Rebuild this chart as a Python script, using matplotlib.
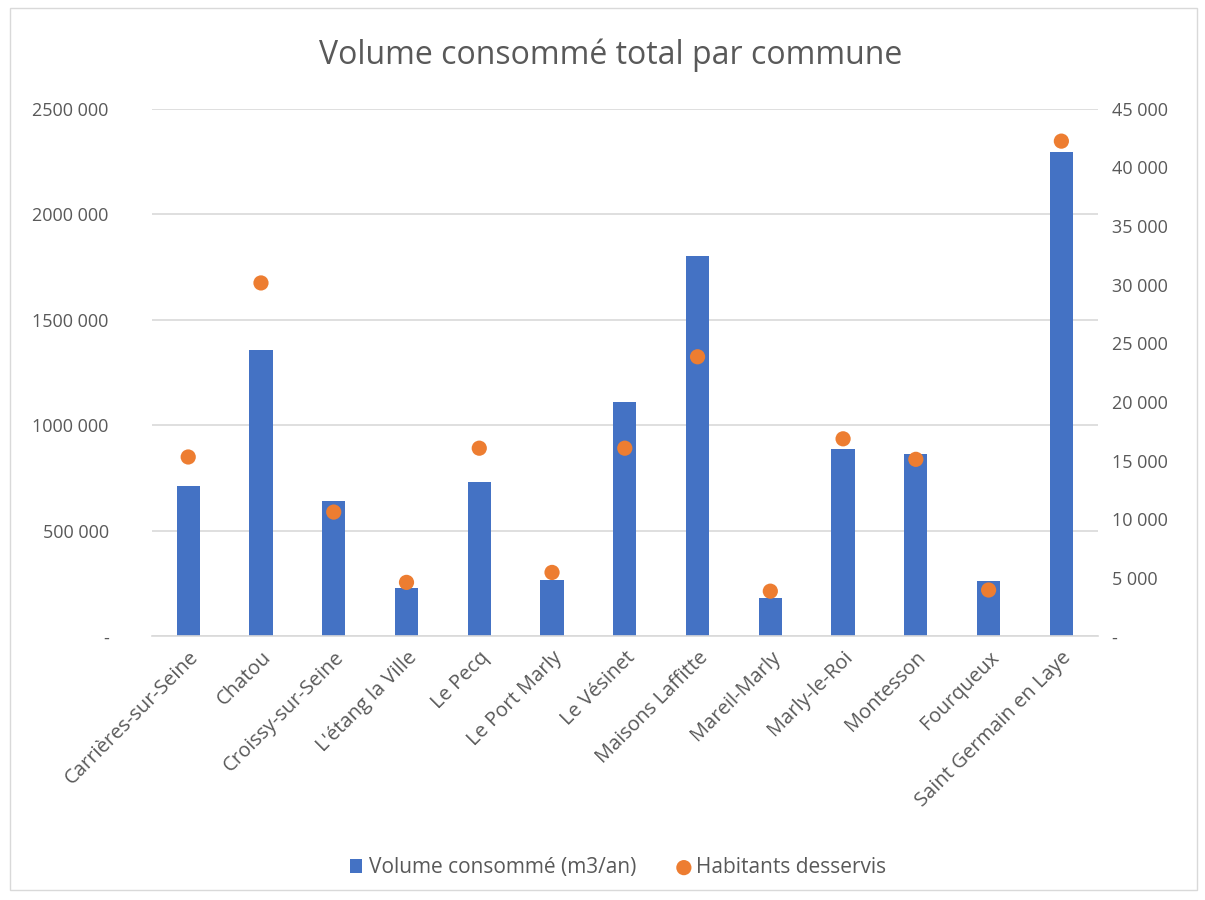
import matplotlib
matplotlib.use("Agg")
import matplotlib.pyplot as plt
from matplotlib.ticker import FuncFormatter, MultipleLocator
from matplotlib.patches import Rectangle

communes = ["Carrières-sur-Seine", "Chatou", "Croissy-sur-Seine", "L'étang la Ville",
            "Le Pecq", "Le Port Marly", "Le Vésinet", "Maisons Laffitte", "Mareil-Marly",
            "Marly-le-Roi", "Montesson", "Fourqueux", "Saint Germain en Laye"]
volume = [712000, 1357000, 641000, 228000, 731000, 266000, 1110000, 1803000, 180000,
          887000, 864000, 261000, 2296000]
habitants = [15300, 30150, 10600, 4600, 16050, 5450, 16050, 23850, 3850,
             16850, 15100, 3950, 42250]

plt.rcParams['font.family'] = ['Open Sans', 'DejaVu Sans']
gray = '#595959'

fig = plt.figure(figsize=(12.05, 9.0), dpi=100)
fig.patches.append(Rectangle((0.008, 0.011), 0.985, 0.98, transform=fig.transFigure,
                             fill=False, edgecolor='#d9d9d9', linewidth=1.0))
ax = fig.add_axes([0.126, 0.293, 0.785, 0.586])
ax2 = ax.twinx()

x = list(range(len(communes)))
b = ax.bar(x, volume, width=0.32, color='#4472C4', label='Volume consommé (m3/an)', zorder=2)
s = ax2.scatter(x, habitants, s=120, color='#ED7D31', label='Habitants desservis', zorder=3,
                edgecolors='none')

ax.set_xlim(-0.5, len(communes) - 0.5)
ax.set_ylim(0, 2500000)
ax2.set_ylim(0, 45000)
ax.yaxis.set_major_locator(MultipleLocator(500000))
ax2.yaxis.set_major_locator(MultipleLocator(5000))

def fmt(v, pos):
    v = int(round(v))
    if v == 0:
        return '-'
    s_ = f"{v:,}".replace(",", " ")
    if v >= 1000000:
        s_ = s_.replace(" ", "", 1)
    return s_

ax.yaxis.set_major_formatter(FuncFormatter(fmt))
ax2.yaxis.set_major_formatter(FuncFormatter(fmt))

ax.grid(axis='y', color='#d9d9d9', linewidth=1.2, zorder=0)
ax.set_axisbelow(True)
for a in (ax, ax2):
    for sp in a.spines.values():
        sp.set_visible(False)
    a.tick_params(length=0, colors=gray, labelsize=13)
ax.spines['bottom'].set_visible(True)
ax.spines['bottom'].set_color('#d9d9d9')
ax.spines['bottom'].set_linewidth(1.2)
ax.tick_params(axis='y', pad=31)
ax2.tick_params(axis='y', pad=10)

ax.set_xticks(x)
ax.set_xticklabels(communes, rotation=45, ha='right', rotation_mode='anchor', color=gray, fontsize=14.5)
ax.tick_params(axis='x', pad=8)

fig.text(0.507, 0.939, "Volume consommé total par commune", ha='center', va='center',
         fontsize=23, color=gray)

fig.legend(handles=[b, s], loc='center', bbox_to_anchor=(0.513, 0.036), ncol=2, frameon=False,
           fontsize=15, labelcolor=gray, handlelength=0.6, handletextpad=0.3, columnspacing=2.0,
           markerscale=1.0)

fig.savefig("out.png", dpi=100)
